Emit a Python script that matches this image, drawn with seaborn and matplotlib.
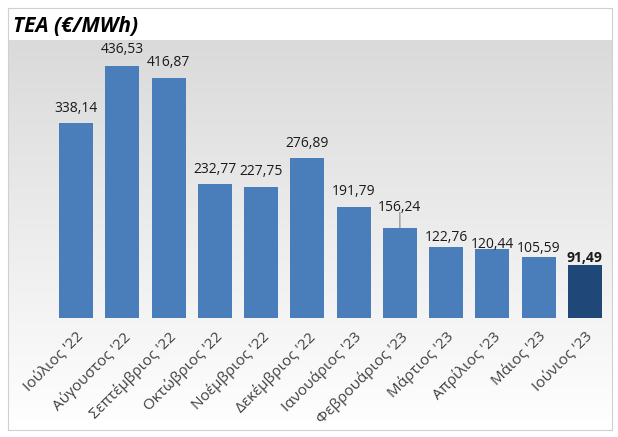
import numpy as np
import pandas as pd
import matplotlib
matplotlib.use("Agg")
import matplotlib.pyplot as plt
import seaborn as sns

months = ["Ιούλιος '22", "Αύγουστος '22", "Σεπτέμβριος '22", "Οκτώβριος '22",
          "Νοέμβριος '22", "Δεκέμβριος '22", "Ιανουάριος '23", "Φεβρουάριος '23",
          "Μάρτιος '23", "Απρίλιος '23", "Μάιος '23", "Ιούνιος '23"]
values = [338.14, 436.53, 416.87, 232.77, 227.75, 276.89, 191.79, 156.24,
          122.76, 120.44, 105.59, 91.49]
title = "TEA (€/MWh)"

# label gaps above bar tops (points) - styling only
label_gaps = [8, 9.4, 8, 8, 8.6, 8.4, 8.6, 12.2, 4.3, 0.7, 3.6, 2.2]

sns.set_theme(style="white")
plt.rcParams['font.family'] = ['Open Sans', 'DejaVu Sans']

df = pd.DataFrame({"month": months, "value": values})
colors = ["#4a7ebb"] * (len(values) - 1) + ["#1f4778"]

fig = plt.figure(figsize=(6.18, 4.37), dpi=100)
W, H = 618, 437

# background gradient panel
bg = fig.add_axes([8 / W, 1 - 430 / H, 604 / W, 390 / H])
grad = np.linspace(0.855, 1.0, 256).reshape(-1, 1)
bg.imshow(np.dstack([grad, grad, grad]), aspect="auto", extent=[0, 1, 0, 1], origin="upper")
bg.set_axis_off()

# outer border
border = fig.add_axes([8 / W, 1 - 430 / H, 604 / W, 422 / H])
border.set_xticks([]); border.set_yticks([])
border.patch.set_alpha(0)
for s in border.spines.values():
    s.set_color("#d0d0d0"); s.set_linewidth(0.8)

ax = fig.add_axes([53 / W, 1 - 318 / H, 555 / W, 278 / H])
ax.patch.set_alpha(0)
sns.barplot(data=df, x="month", y="value", hue="month", palette=colors,
            legend=False, width=0.73, ax=ax, saturation=1, linewidth=0,
            edgecolor="none")
ax.set_ylim(0, 482)
ax.set_xlim(-0.5, len(values) - 0.5)
for s in ax.spines.values():
    s.set_visible(False)
ax.set_yticks([])
ax.set_xlabel("")
ax.set_ylabel("")
ax.tick_params(axis="x", length=0, pad=8)
ax.set_xticks(range(len(months)))
ax.set_xticklabels(months, rotation=45, ha="right", rotation_mode="anchor",
                   fontsize=11, color="#404040")

for i, (v, gap) in enumerate(zip(values, label_gaps)):
    txt = f"{v:.2f}".replace(".", ",")
    bold = i == len(values) - 1
    ax.annotate(txt, (i, v), xytext=(0, gap), textcoords="offset points",
                ha="center", va="baseline", fontsize=10, color="#1a1a1a",
                fontweight="bold" if bold else "normal")
    if gap > 10:
        ax.annotate("", (i, v), xytext=(0, gap - 1), textcoords="offset points",
                    arrowprops=dict(arrowstyle="-", color="#888888", lw=0.8,
                                    shrinkA=0, shrinkB=0))

fig.text(13 / W, 1 - 26 / H, title, fontsize=15, fontweight="bold",
         fontstyle="italic", color="black", va="center", ha="left")

fig.savefig("out.png", dpi=100)
